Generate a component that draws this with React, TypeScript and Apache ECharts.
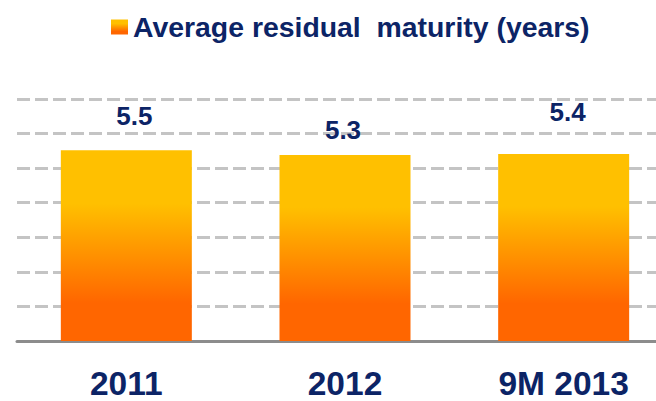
import React, { useEffect, useRef } from "react";
import * as echarts from "echarts";

const categories = ["2011", "2012", "9M 2013"];
const barValues = [5.52, 5.38, 5.41];
const valueLabels = ["5.5", "5.3", "5.4"];
const seriesName = "Average residual  maturity (years)";
const labelOffsets: [number, number][] = [[8, -16], [-2, -7], [4, -24]];

const NAVY = "#0c2466";
const FONT = "'Liberation Sans', Arial, sans-serif";

export default function App() {
  const ref = useRef<HTMLDivElement>(null);
  useEffect(() => {
    document.body.style.margin = "0";
    if (!ref.current) return;
    const chart = echarts.init(ref.current, null, { renderer: "svg" });
    const grad = new echarts.graphic.LinearGradient(0, 0, 0, 1, [
      { offset: 0, color: "#FFC000" },
      { offset: 0.28, color: "#FFC000" },
      { offset: 0.8, color: "#FF6600" },
      { offset: 1, color: "#FF6600" },
    ]);
    chart.setOption({
      animation: false,
      backgroundColor: "#ffffff",
      textStyle: { fontFamily: FONT },
      legend: {
        left: 106,
        top: 8,
        itemWidth: 17,
        itemHeight: 15,
        itemGap: 8,
        icon: "rect",
        textStyle: { fontSize: 28.4, fontWeight: "bold", color: NAVY, fontFamily: FONT },
        data: [seriesName],
      },
      grid: { left: 17, top: 99, right: 0, bottom: 60, containLabel: false },
      xAxis: {
        type: "category",
        data: categories,
        axisLine: { show: true, lineStyle: { color: "#8c8c8c", width: 3 } },
        axisTick: { show: false },
        axisLabel: {
          margin: 26,
          fontSize: 33.5,
          lineHeight: 33,
          fontWeight: "bold",
          color: NAVY,
          fontFamily: FONT,
          interval: 0,
          overflow: "none",
        },
      },
      yAxis: {
        type: "value",
        min: 0,
        max: 7,
        interval: 1,
        axisLabel: { show: false },
        axisLine: { show: false },
        axisTick: { show: false },
        splitLine: {
          show: true,
          lineStyle: { color: "#c4c4c4", width: 3, type: [13, 5] },
        },
      },
      series: [
        {
          name: seriesName,
          type: "bar",
          barWidth: 131,
          itemStyle: { color: grad },
          data: barValues.map((v, i) => ({
            value: v,
            label: {
              show: true,
              position: "top",
              distance: 5,
              offset: labelOffsets[i],
              formatter: () => valueLabels[i],
              fontSize: 26,
              fontWeight: "bold",
              color: NAVY,
              fontFamily: FONT,
            },
          })),
        },
      ],
    });
    return () => chart.dispose();
  }, []);
  return (
    <div style={{ width: 656, height: 401, overflow: "hidden", position: "relative" }}>
      <div ref={ref} style={{ width: 673, height: 401 }} />
    </div>
  );
}
